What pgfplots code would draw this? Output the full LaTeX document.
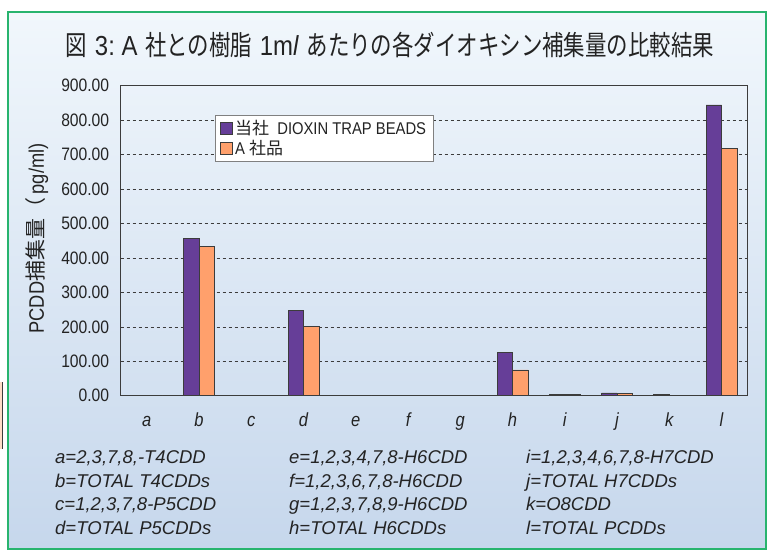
\documentclass[border=0pt]{standalone}
\usepackage{pgfplots}
\pgfplotsset{compat=1.18}
\usepackage{pgfplotstable}
\usepackage{fontspec}
\setmainfont{Liberation Sans}
\newfontfamily\narrowfont{Liberation Sans}[FakeStretch=0.87]
\newfontfamily\jpfont{Noto Sans CJK JP}
\newfontfamily\jptitle{Noto Sans CJK JP}[FakeStretch=0.78]

\definecolor{barpurple}{RGB}{102,62,152}
\definecolor{barorange}{RGB}{255,160,108}
\definecolor{framegreen}{RGB}{40,180,110}
\definecolor{bgtop}{RGB}{241,247,252}
\definecolor{bgbottom}{RGB}{198,215,236}
\definecolor{edgegray}{RGB}{60,60,60}
\definecolor{txt}{RGB}{35,35,35}
\definecolor{peach}{RGB}{255,221,200}

% PCDD amounts (pg/ml): own resin vs. company A resin
\pgfplotstableread{
idx own other
0 0 0
1 456 434
2 2 2
3 248 200
4 0 0
5 2 2
6 1.5 1.5
7 125 75
8 4 4
9 8 7
10 3 1
11 844 718
}\dioxin

\begin{document}
\begin{tikzpicture}[x=1pt,y=1pt]
% canvas and panel
\fill[white] (0,0) rectangle (772,550);
\shade[top color=bgtop, bottom color=bgbottom] (8,1) rectangle (766,538);
\draw[framegreen, line width=1.2pt] (8,1) rectangle (766,538);
\fill[peach] (0,101) rectangle (2.2,168);
\draw[edgegray, line width=0.6pt] (2.2,101) -- (2.2,168);

% title
\node[txt, anchor=center] at (390,505) {%
  \fontsize{27.5}{30}\selectfont{\jptitle 図}\ {\narrowfont 3:\ A}\ {\jptitle 社との樹脂}\ {\narrowfont 1m\textit{l}}\ {\jptitle あたりの各ダイオキシン補集量の比較結果}};

% y axis title
\node[txt, rotate=90, anchor=center] at (37,311.5) {%
  \fontsize{21}{24}\selectfont{\narrowfont PCDD}{\jpfont 捕集量（}{\narrowfont\,pg/ml)}};

\begin{axis}[
  at={(120.7pt,154.3pt)}, anchor=south west,
  scale only axis, width=627pt, height=310pt,
  xmin=-0.5, xmax=11.5, ymin=0, ymax=900,
  ybar=0pt, bar width=15.5pt,
  xtick={0,...,11},
  xticklabels={a,b,c,d,e,f,g,h,i,j,k,l},
  ytick={0,100,...,900},
  major tick length=0pt,
  axis line style={edgegray, line width=0.9pt},
  ymajorgrids,
  major grid style={dashed, edgegray, line width=0.6pt},
  tick label style={txt},
  yticklabel style={/pgf/number format/.cd, fixed, fixed zerofill, precision=2, assume math mode=true,
    /tikz/.cd, font=\narrowfont\fontsize{18}{18}\selectfont, anchor=east, xshift=-8pt},
  xticklabel style={font=\narrowfont\itshape\fontsize{19}{19}\selectfont, anchor=base, yshift=-31pt},
  legend style={at={(0.1504,0.9055)}, anchor=north west, fill=white, draw=gray,
    line width=0.8pt, font=\narrowfont\fontsize{17}{19}\selectfont, text=txt,
    row sep=0pt, inner xsep=5pt, inner ysep=3pt},
  legend cell align=left,
  legend image code/.code={\draw[#1, line width=0.7pt] (0pt,-6pt) rectangle (12pt,6pt);},
]
\addplot[fill=barpurple, draw=edgegray, line width=0.7pt] table[x=idx, y=own] {\dioxin};
\addplot[fill=barorange, draw=edgegray, line width=0.7pt] table[x=idx, y=other] {\dioxin};
\legend{{\jpfont 当社}\ \ DIOXIN TRAP BEADS, {\narrowfont A\ }{\jpfont 社品}}
\end{axis}

% key to the category letters
\begin{scope}[every node/.style={anchor=base west, txt, font=\itshape\fontsize{18.5}{20}\selectfont, inner sep=0pt}]
\node at (55,87) {a=2,3,7,8,-T4CDD};
\node at (55,63) {b=TOTAL T4CDDs};
\node at (55,39.5) {c=1,2,3,7,8-P5CDD};
\node at (55,15.5) {d=TOTAL P5CDDs};
\node at (289,87) {e=1,2,3,4,7,8-H6CDD};
\node at (289,63) {f=1,2,3,6,7,8-H6CDD};
\node at (289,39.5) {g=1,2,3,7,8,9-H6CDD};
\node at (289,15.5) {h=TOTAL H6CDDs};
\node at (526,87) {i=1,2,3,4,6,7,8-H7CDD};
\node at (526,63) {j=TOTAL H7CDDs};
\node at (526,39.5) {k=O8CDD};
\node at (526,15.5) {l=TOTAL PCDDs};
\end{scope}
\end{tikzpicture}
\end{document}
